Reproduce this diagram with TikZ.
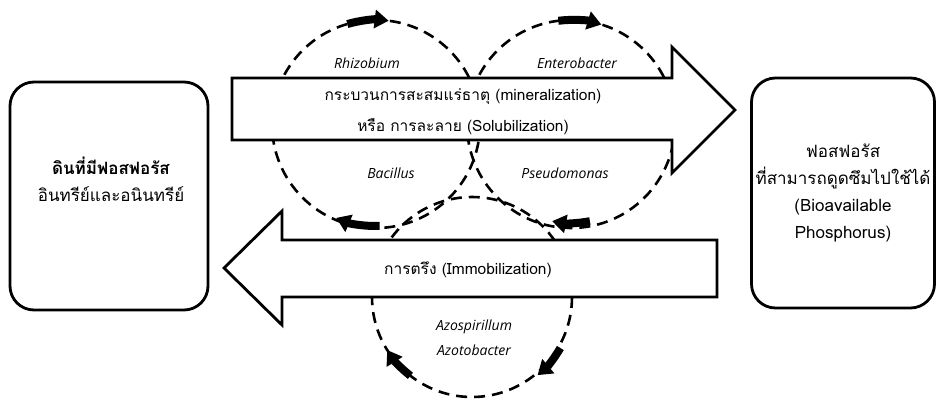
\documentclass[tikz,border=0pt]{standalone}
\usepackage{fontspec}
\setmainfont[Script=Thai]{Loma}
\newfontfamily\bugfont{Open Sans}
\usepackage{tikz}
\usetikzlibrary{arrows.meta,positioning,calc}
\tikzset{
  soilbox/.style={draw=black, rounded corners=24pt, line width=2.8pt, fill=white},
  boxtext/.style={align=center, font=\fontsize{17}{27}\selectfont},
  flowarrow/.style={draw=black, line width=2.8pt, fill=white, line join=miter},
  flowtext/.style={align=center, font=\fontsize{15.5}{31}\selectfont},
  bugloop/.style={dash pattern=on 11pt off 7pt, line width=2.6pt},
  bugtip/.style={-{Triangle[length=14pt,width=18pt]}, line width=8pt},
  bugname/.style={font=\bugfont\itshape\fontsize{14}{25}\selectfont, align=center}
}
\begin{document}
\begin{tikzpicture}[x=1pt,y=-1pt]
  \useasboundingbox (0,0) rectangle (939,399);
  % loops of the microbes
  \coordinate (rhiz) at (376,124);
  \coordinate (ente) at (571,124);
  \coordinate (azos) at (472,297);
  \draw[bugloop] (rhiz) circle[radius=104];
  \draw[bugloop] (ente) circle[radius=104];
  \draw[bugloop] (azos) circle[radius=100];
  % the two process arrows
  \draw[flowarrow] (232,78) -- (672,78) -- (672,47) -- (735,110) -- (672,173) -- (672,140) -- (232,140) -- cycle;
  \draw[flowarrow] (717,240) -- (282,240) -- (282,211) -- (224,268) -- (282,325) -- (282,297) -- (717,297) -- cycle;
  \node[flowtext] (minlbl) at (463,112) {กระบวนการสะสมแร่ธาตุ (mineralization)\\หรือ การละลาย (Solubilization)};
  \node[flowtext] (immlbl) at (468,270) {การตรึง (Immobilization)};
  % the boxes
  \node[soilbox, minimum width=198pt, minimum height=228pt] (soil) at (109,196) {};
  \node[boxtext] (soillbl) at (111,179) {\textbf{ดินที่มีฟอสฟอรัส}\\อินทรีย์และอนินทรีย์};
  \node[soilbox, boxtext, minimum width=183pt, minimum height=230pt] (avail) at (843,193)
    {ฟอสฟอรัส\\ที่สามารถดูดซึมไปใช้ได้\\(Bioavailable\\Phosphorus)};
  % microbe names
  \node[bugname] (rhizlbl) at (367,63) {Rhizobium};
  \node[bugname] (entelbl) at (577,63) {Enterobacter};
  \node[bugname] (bacilbl) at (391,173) {Bacillus};
  \node[bugname] (pseulbl) at (565,173) {Pseudomonas};
  \node[bugname] (azoslbl) at (474,338) {Azospirillum\\Azotobacter};
  % direction marks on the loops
  \draw[bugtip] ([shift={(254:104)}]rhiz) arc[start angle=254, end angle=277, radius=104];
  \draw[bugtip] ([shift={(263:104)}]ente) arc[start angle=263, end angle=287, radius=104];
  \draw[bugtip] ([shift={(88:102)}]rhiz) arc[start angle=88, end angle=113, radius=102];
  \draw[bugtip] ([shift={(79:99)}]ente) arc[start angle=79, end angle=101, radius=99];
  \draw[bugtip] ([shift={(30:102)}]azos) arc[start angle=30, end angle=50, radius=102];
  \draw[bugtip] ([shift={(128:100)}]azos) arc[start angle=128, end angle=148, radius=100];
\end{tikzpicture}
\end{document}
